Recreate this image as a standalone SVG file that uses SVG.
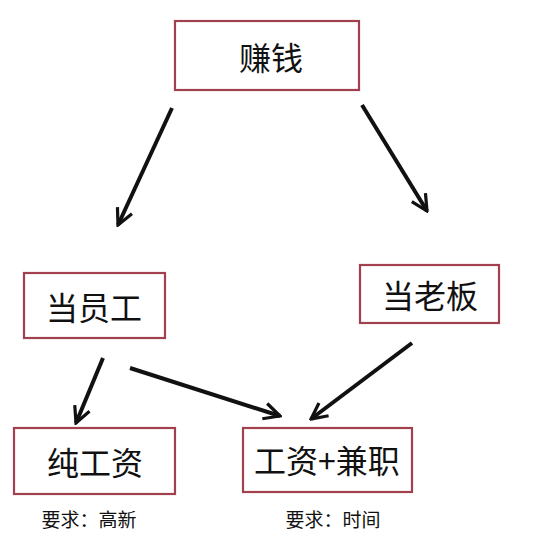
<svg xmlns="http://www.w3.org/2000/svg" width="539" height="539" viewBox="0 0 539 539">
<style>
.box{fill:#fff;stroke:#a3404f;stroke-width:2.2}
.lbl{font-family:"Noto Sans CJK SC","Noto Sans",sans-serif;font-size:32px;fill:#111;text-anchor:middle;dominant-baseline:central}
.note{font-family:"Noto Sans CJK SC","Noto Sans",sans-serif;font-size:19px;fill:#111;text-anchor:middle;dominant-baseline:central}
.edge{stroke:#111;stroke-width:4;fill:none;marker-end:url(#ah)}
</style>
<defs>
<marker id="ah" viewBox="0 0 10 10" refX="9" refY="5" markerWidth="5" markerHeight="5" orient="auto" markerUnits="strokeWidth">
<path d="M1,1 L9,5 L1,9" fill="none" stroke="#111" stroke-width="1.6"/>
</marker>
</defs>
<rect width="539" height="539" fill="#fff"/>
<g id="connectors">
<line class="edge" x1="172" y1="108" x2="118" y2="225"/>
<line class="edge" x1="362" y1="105" x2="427" y2="211"/>
<line class="edge" x1="103" y1="358" x2="76" y2="423"/>
<line class="edge" x1="130" y1="368" x2="280" y2="416"/>
<line class="edge" x1="412" y1="343" x2="311" y2="419"/>
</g>
<g id="n-zhuanqian"><rect class="box" x="175" y="21" width="184" height="69"/><text class="lbl" x="271" y="56">赚钱</text></g>
<g id="n-yuangong"><rect class="box" x="24" y="273" width="141" height="65"/><text class="lbl" x="94" y="306">当员工</text></g>
<g id="n-laoban"><rect class="box" x="360" y="265" width="139" height="58"/><text class="lbl" x="430" y="294">当老板</text></g>
<g id="n-chungongzi"><rect class="box" x="14" y="428" width="161" height="66"/><text class="lbl" x="95" y="461">纯工资</text><text class="note" x="89" y="518">要求：高新</text></g>
<g id="n-jianzhi"><rect class="box" x="243" y="428" width="169" height="64"/><text class="lbl" x="327" y="459">工资+兼职</text><text class="note" x="333" y="518">要求：时间</text></g>
</svg>
